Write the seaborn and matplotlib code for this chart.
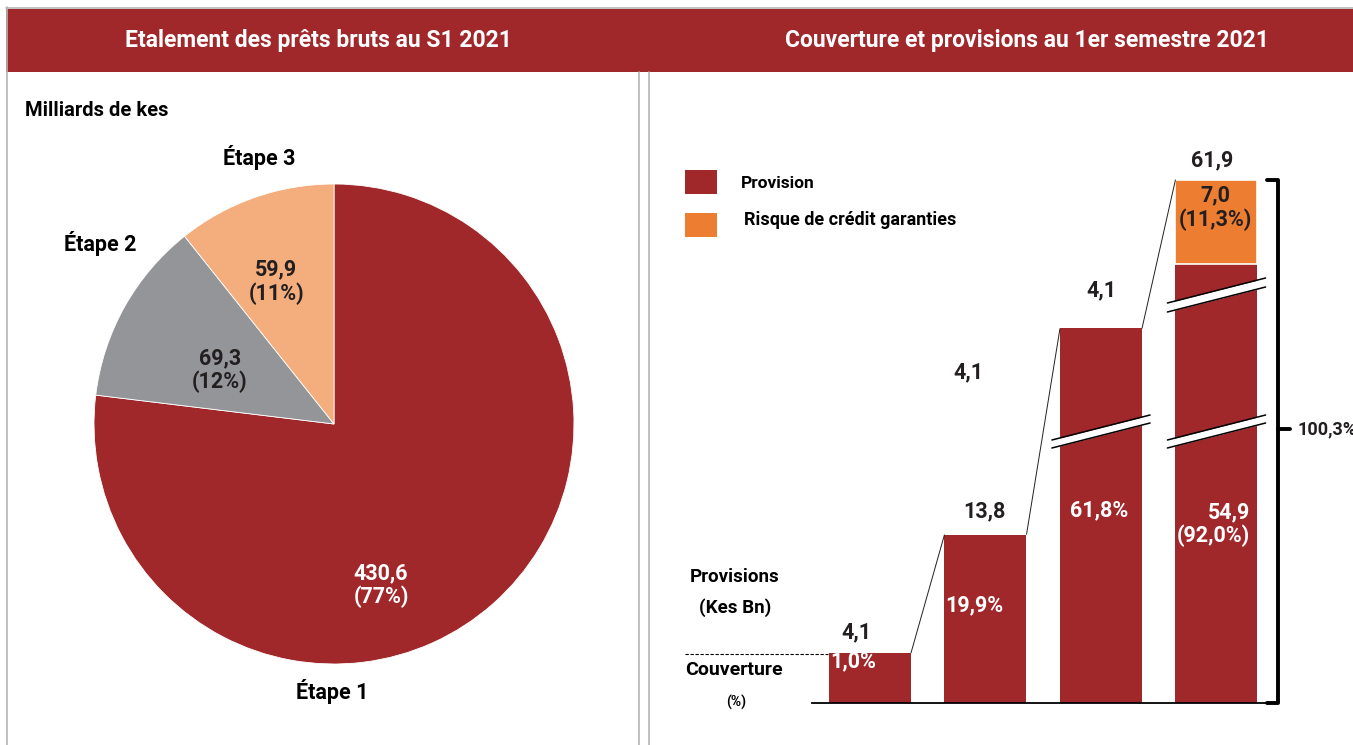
import numpy as np
import matplotlib
matplotlib.use("Agg")
import matplotlib.pyplot as plt
from matplotlib.patches import Rectangle
from matplotlib.transforms import blended_transform_factory
import seaborn as sns

# ---------------------------------------------------------------- data
stages = ["Étape 1", "Étape 2", "Étape 3"]
gross_loans = [430.6, 69.3, 59.9]            # milliards de KES
loan_shares = ["77%", "12%", "11%"]

bar_groups = ["Étape 1", "Étape 2", "Étape 3", "Total"]
provisions = [4.1, 13.8, 37.0, 54.9]         # milliards de KES
coverage = ["1,0%", "19,9%", "61,8%", "92,0%"]
guarantee_risk = 7.0                         # risque de crédit garanties (Total)
guarantee_share = "11,3%"
total_coverage = "100,3%"
header_values = ["4,1", "13,8", "4,1"]       # printed above bars 1-3

# ---------------------------------------------------------------- style
RED = "#A0282B"
ORANGE = "#ED7D31"
PEACH = "#F4AD7C"
GREY = "#939598"
INK = "#231F20"
FRAME = "#B5B5B5"
NUM = 15.5          # size of the numeric labels

W, H = 1353, 745
sns.set_theme(style="white")
plt.rcParams["font.family"] = ["Roboto", "DejaVu Sans"]
plt.rcParams["font.weight"] = "bold"

fig = plt.figure(figsize=(W / 100, H / 100), dpi=100)
fig.patch.set_facecolor("white")


def fx(x):
    return x / W


def fy(y):
    return 1 - y / H


def fmt(v):
    return f"{v:.1f}".replace(".", ",")


# ---------------------------------------------------------------- frame & headers
bg = fig.add_axes([0, 0, 1, 1], zorder=-5)
bg.set_xlim(0, W)
bg.set_ylim(H, 0)
bg.axis("off")
bg.add_patch(Rectangle((6, 9), W - 6, 63, color=RED, lw=0))
bg.plot([6, W], [7.5, 7.5], color=FRAME, lw=1.2)
bg.plot([6.5, 6.5], [7, H], color=FRAME, lw=1.2)
bg.plot([638.5, 638.5], [72, H], color=FRAME, lw=1.2)
bg.plot([648.5, 648.5], [72, H], color=FRAME, lw=1.2)
bg.text(318, 41, "Etalement des prêts bruts au S1 2021", color="white",
        fontsize=16.5, fontweight="bold", ha="center", va="center")
bg.text(1027, 41, "Couverture et provisions au 1er semestre 2021", color="white",
        fontsize=16.5, fontweight="bold", ha="center", va="center")
bg.text(25, 110, "Milliards de kes", color="black", fontsize=14.5,
        fontweight="bold", ha="left", va="center")

# ---------------------------------------------------------------- pie (left panel)
cx, cy, r = 334, 424, 240
ax_pie = fig.add_axes([fx(cx - r), fy(cy + r), 2 * r / W, 2 * r / H])
ax_pie.pie(gross_loans, colors=[RED, GREY, PEACH], startangle=90,
           counterclock=False, radius=1,
           wedgeprops=dict(edgecolor="white", linewidth=0.6))
ax_pie.set_xlim(-1, 1)
ax_pie.set_ylim(-1, 1)
ax_pie.set_aspect("auto")

inner_pos = [(0.196, -0.671), (-0.475, 0.225), (-0.24, 0.592)]
inner_col = ["white", INK, INK]
for (x, y), v, s, c in zip(inner_pos, gross_loans, loan_shares, inner_col):
    ax_pie.text(x, y, f"{fmt(v)}\n({s})", color=c, fontsize=NUM,
                fontweight="bold", ha="center", va="center", linespacing=1.1)

outer_pos = [(-0.008, -1.1125), (-0.975, 0.75), (-0.31, 1.1125)]
for (x, y), name in zip(outer_pos, stages):
    ax_pie.text(x, y, name, color="black", fontsize=15.5, fontweight="bold",
                ha="center", va="center", clip_on=False)

# ---------------------------------------------------------------- bars (right panel)
# broken value axis: the upper ranges are compressed, shown by break marks
knots_value = [-10, 0, 20, 37, 55, 200]
knots_drawn = [-10, 0, 20, 30.7, 36.0, 181.0]


def forward(v):
    return np.interp(np.asarray(v, dtype=float), knots_value, knots_drawn)


def inverse(d):
    return np.interp(np.asarray(d, dtype=float), knots_drawn, knots_value)


ax = fig.add_axes([fx(812), fy(703), 456 / W, 573 / H])
width = 0.71
sns.barplot(x=bar_groups, y=provisions, color=RED, saturation=1,
            width=width, ax=ax, edgecolor="none")
ax.bar(3, guarantee_risk, bottom=provisions[3], width=width, color=ORANGE,
       edgecolor="white", linewidth=1.2)
ax.set_yscale("function", functions=(forward, inverse))
ax.set_xlim(-0.502, 3.446)
ax.set_ylim(0, float(inverse(46.97)))
ax.set_xticks([])
ax.set_yticks([])
ax.set_xlabel("")
ax.set_ylabel("")
ax.yaxis.set_minor_locator(matplotlib.ticker.NullLocator())
for side in ["left", "right", "top"]:
    ax.spines[side].set_visible(False)
ax.spines["bottom"].set_color("black")
ax.spines["bottom"].set_linewidth(1.3)
ax.patch.set_alpha(0)

total = provisions[3] + guarantee_risk
tops = provisions[:3] + [total]

# connector lines between bar tops
for i in range(3):
    ax.plot([i + width / 2, i + 1 - width / 2], [tops[i], tops[i + 1]],
            color=INK, lw=0.7, solid_capstyle="butt")

# break marks (positions in axes fraction of the drawn height)
ytrans = blended_transform_factory(ax.transData, ax.transAxes)


def break_mark(xc, y0_px, rise_px, gap_px):
    half = width / 2 + 0.07
    xs = np.array([xc - half, xc + half])
    y_lo = np.array([703 - y0_px, 703 - y0_px + rise_px]) / 573
    y_hi = y_lo + gap_px / 573
    ax.fill_between(xs, y_lo, y_hi, color="white", transform=ytrans,
                    zorder=4, lw=0, clip_on=False)
    ax.plot(xs, y_lo, color="black", lw=1.1, transform=ytrans, zorder=5,
            clip_on=False)
    ax.plot(xs, y_hi, color="black", lw=1.1, transform=ytrans, zorder=5,
            clip_on=False)


break_mark(2, 448, 25, 8)
break_mark(3, 448, 25, 8)
break_mark(3, 312, 25, 9)

# value labels above the bars
above = [(-14, 21), (-1, 23), (0, 38)]
for i, (dx, dy) in enumerate(above):
    ax.annotate(header_values[i], (i, tops[i]), xytext=(dx, dy),
                textcoords="offset pixels", ha="center", va="center",
                color=INK, fontsize=NUM, fontweight="bold")
ax.annotate(header_values[0], (1, tops[1]), xytext=(-17, 162),
            textcoords="offset pixels", ha="center", va="center",
            color=INK, fontsize=NUM, fontweight="bold")
ax.annotate(fmt(total), (3, total), xytext=(-4, 19),
            textcoords="offset pixels", ha="center", va="center",
            color=INK, fontsize=NUM, fontweight="bold")

# coverage labels inside the bars
ax.annotate(coverage[0], (0 - width / 2, provisions[0]), xytext=(1, -8),
            textcoords="offset pixels", ha="left", va="center",
            color="white", fontsize=NUM, fontweight="bold", zorder=6)
ax.annotate(coverage[1], (1 - width / 2, provisions[1]), xytext=(1, -71),
            textcoords="offset pixels", ha="left", va="center",
            color="white", fontsize=NUM, fontweight="bold")
ax.annotate(coverage[2], (2, provisions[2]), xytext=(-2, -182),
            textcoords="offset pixels", ha="center", va="center",
            color="white", fontsize=NUM, fontweight="bold")
ax.annotate(f"{fmt(provisions[3])}\n({coverage[3]})", (3, provisions[3]),
            xytext=(-3, -260), textcoords="offset pixels", ha="center",
            va="center", multialignment="right", color="white",
            fontsize=NUM, fontweight="bold", linespacing=1.1)
ax.annotate(f"{fmt(guarantee_risk)}\n({guarantee_share})", (3, total),
            xytext=(-1, -28), textcoords="offset pixels", ha="center",
            va="center", color=INK, fontsize=NUM, fontweight="bold",
            linespacing=1.1)

# bracket spanning the total bar
bx0, bx1 = 3.446 - 0.005, 3.446 + 10 / 115.5
ax.plot([bx0, bx1, bx1, bx0], [total, total, 0, 0], color="black", lw=2.8,
        clip_on=False, solid_joinstyle="round", zorder=5)
mid = float(inverse(forward(total) / 2 + 1))
ax.plot([bx1, bx1 + 12 / 115.5], [mid, mid], color="black", lw=2.8,
        clip_on=False, solid_capstyle="round")
ax.annotate(total_coverage, (bx1, mid), xytext=(19, 0),
            textcoords="offset pixels", ha="left", va="center",
            color=INK, fontsize=13, fontweight="bold", annotation_clip=False)

# legend
bg.add_patch(Rectangle((685, 170), 32, 24, color=RED, lw=0))
bg.add_patch(Rectangle((685, 213), 32, 24, color=ORANGE, lw=0))
bg.text(741, 184, "Provision", fontsize=12.5, fontweight="bold", color="black",
        ha="left", va="center")
bg.text(744, 220, "Risque de crédit garanties", fontsize=13,
        fontweight="bold", color="black", ha="left", va="center")

# row captions on the left of the bars
bg.text(735, 577, "Provisions", fontsize=13.5, fontweight="bold", color="black",
        ha="center", va="center")
bg.text(735, 608, "(Kes Bn)", fontsize=13.5, fontweight="bold", color="black",
        ha="center", va="center")
bg.plot([685, 828], [654, 654], color="black", lw=0.8, ls=(0, (3, 1.5)))
bg.text(734, 670, "Couverture", fontsize=14, fontweight="bold", color="black",
        ha="center", va="center")
bg.text(736, 702, "(%)", fontsize=10, fontweight="bold", color="black",
        ha="center", va="center")

fig.savefig("out.png", dpi=100, facecolor="white")
